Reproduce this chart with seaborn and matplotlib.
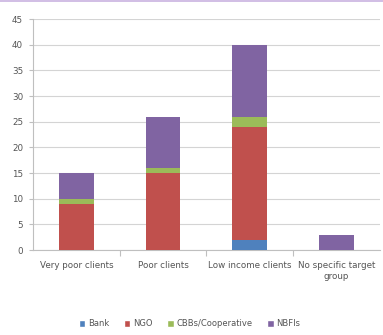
import matplotlib
matplotlib.use("Agg")
import matplotlib.pyplot as plt
from matplotlib.patches import Patch
import numpy as np
import pandas as pd
import seaborn as sns

categories = ["Very poor clients", "Poor clients", "Low income clients", "No specific target\ngroup"]
series = ["Bank", "NGO", "CBBs/Cooperative", "NBFIs"]
bank = [0, 0, 2, 0]
ngo = [9, 15, 22, 0]
cbb = [1, 1, 2, 0]
nbfi = [5, 10, 14, 3]
colors = ["#4F81BD", "#C0504D", "#9BBB59", "#8064A2"]
y_ticks = list(range(0, 50, 5))

sns.set_theme(style="white")
plt.rcParams["font.family"] = ["DejaVu Sans"]

values = np.array([bank, ngo, cbb, nbfi], dtype=float)
cum = values.cumsum(axis=0)

fig = plt.figure(figsize=(3.83, 3.35), dpi=100)
ax = fig.add_axes([0.086, 0.2537, 0.906, 0.6895])

# stacked bars: draw cumulative totals from the top segment down
for i in range(len(series) - 1, -1, -1):
    df = pd.DataFrame({"cat": categories, "val": cum[i]})
    sns.barplot(data=df, x="cat", y="val", color=colors[i], width=0.4,
                saturation=1, ax=ax, zorder=3, linewidth=0)

ax.set_ylim(0, 45)
ax.set_xlim(-0.5, 3.5)
ax.set_yticks(y_ticks)
ax.set_yticklabels([str(t) for t in y_ticks], fontsize=6.3, color="#555555")
ax.yaxis.grid(True, color="#d4d4d4", linewidth=0.8, zorder=0)
ax.set_axisbelow(True)
ax.set_xlabel("")
ax.set_ylabel("")

ax.set_xticks(range(len(categories)))
ax.set_xticklabels(categories, fontsize=6.3, color="#555555")
ax.tick_params(axis="x", length=0, pad=8)
ax.tick_params(axis="y", length=3, color="#bfbfbf", width=0.8, pad=4)
ax.yaxis.set_tick_params(which="major", left=True)

# category separator ticks below the axis
ax.set_xticks([0.5, 1.5, 2.5], minor=True)
ax.tick_params(axis="x", which="minor", length=4, color="#bfbfbf", width=0.8, bottom=True)

for s in ["top", "right"]:
    ax.spines[s].set_visible(False)
for s in ["left", "bottom"]:
    ax.spines[s].set_color("#bfbfbf")
    ax.spines[s].set_linewidth(0.8)

handles = [Patch(facecolor=c, label=l) for c, l in zip(colors, series)]
fig.legend(handles=handles, loc="center", bbox_to_anchor=(0.495, 0.033), ncol=4,
           frameon=False, fontsize=6, handlelength=0.75, handleheight=0.75,
           handletextpad=0.3, columnspacing=1.8, labelcolor="#555555")

# thin purple rule along the top edge
fig.add_artist(plt.Line2D([0, 1], [0.997, 0.997], color="#c9b3e0", linewidth=1.2,
                          transform=fig.transFigure))

fig.savefig("out.png", dpi=100)
